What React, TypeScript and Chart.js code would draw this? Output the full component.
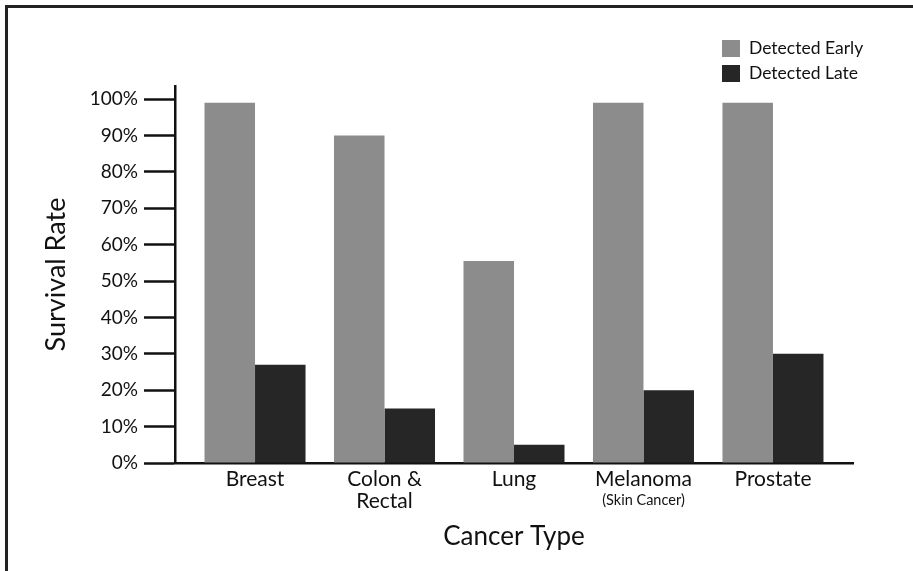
import React, { useEffect, useRef } from "react";
import { Chart, registerables } from "chart.js";

Chart.register(...registerables);

const categoryLabels: (string | string[])[] = ["Breast", ["Colon &", "Rectal"], "Lung", "Melanoma", "Prostate"];
const categorySubLabels: string[] = ["", "", "", "(Skin Cancer)", ""];
const detectedEarly: number[] = [99, 90, 55.5, 99, 99];
const detectedLate: number[] = [27, 15, 5, 20, 30];
const yTickValues: number[] = [0, 10, 20, 30, 40, 50, 60, 70, 80, 90, 100];
const seriesNames: string[] = ["Detected Early", "Detected Late"];
const seriesColors: string[] = ["#8c8c8c", "#262626"];

const FONT = "Lato, 'Open Sans', sans-serif";

const subLabelPlugin = {
  id: "subLabels",
  afterDraw(chart: any) {
    const xs = chart.scales.x;
    const ctx = chart.ctx;
    ctx.save();
    ctx.font = `14.5px ${FONT}`;
    ctx.fillStyle = "#111";
    ctx.textAlign = "center";
    ctx.textBaseline = "middle";
    categorySubLabels.forEach((t, i) => {
      if (!t) return;
      ctx.fillText(t, xs.getPixelForValue(i), xs.top + 37);
    });
    ctx.restore();
  },
};

const legendPlugin = {
  id: "customLegend",
  afterDraw(chart: any) {
    const ctx = chart.ctx;
    ctx.save();
    ctx.font = `17.5px ${FONT}`;
    ctx.textAlign = "left";
    ctx.textBaseline = "middle";
    chart.data.datasets.forEach((ds: any, i: number) => {
      const bx = 722;
      const by = 40 + i * 25;
      ctx.fillStyle = ds.backgroundColor;
      ctx.fillRect(bx, by, 18, 17);
      ctx.fillStyle = "#111";
      ctx.fillText(ds.label, bx + 27, by + 8.5);
    });
    ctx.restore();
  },
};

export default function App() {
  const ref = useRef<HTMLCanvasElement>(null);
  useEffect(() => {
    if (!ref.current) return;
    const pad = 0.118;
    const chart = new Chart(ref.current, {
      type: "bar",
      data: {
        datasets: [
          {
            label: seriesNames[0],
            data: detectedEarly.map((v, i) => ({ x: i, y: v })),
            backgroundColor: seriesColors[0],
            barPercentage: 1,
            categoryPercentage: 0.78,
          },
          {
            label: seriesNames[1],
            data: detectedLate.map((v, i) => ({ x: i, y: v })),
            backgroundColor: seriesColors[1],
            barPercentage: 1,
            categoryPercentage: 0.78,
          },
        ],
      },
      options: {
        animation: false,
        responsive: false,
        devicePixelRatio: 1,
        layout: { padding: { top: 86, right: 60, left: 0, bottom: 0 } },
        plugins: {
          legend: { display: false },
          tooltip: { enabled: false },
          title: { display: false },
        },
        scales: {
          x: {
            type: "linear",
            offset: false,
            min: -0.5 - pad,
            max: categoryLabels.length - 0.5 + pad,
            grid: { display: false, drawTicks: false, offset: false },
            border: { display: true, color: "#111", width: 2.5 },
            afterBuildTicks: (scale: any) => {
              scale.ticks = categoryLabels.map((_, i) => ({ value: i }));
            },
            afterFit: (scale: any) => {
              scale.height = 108;
            },
            ticks: {
              autoSkip: false,
              maxRotation: 0,
              padding: 5,
              color: "#111",
              font: { family: FONT, size: 21, lineHeight: 1.05 },
              callback: (v: any) => categoryLabels[v as number] as any,
            },
            title: {
              display: true,
              text: "Cancer Type",
              color: "#111",
              font: { family: FONT, size: 26 },
              padding: { top: 0, bottom: 19 },
            },
          },
          y: {
            min: 0,
            max: 103.6,
            afterBuildTicks: (scale: any) => {
              scale.ticks = yTickValues.map((v) => ({ value: v }));
            },
            afterFit: (scale: any) => {
              scale.width = 175;
            },
            grid: {
              drawOnChartArea: false,
              drawTicks: true,
              tickLength: 31,
              tickColor: "#111",
              tickWidth: 2.5,
            },
            border: { display: true, color: "#111", width: 2.5 },
            ticks: {
              padding: 6,
              color: "#111",
              font: { family: FONT, size: 19 },
              callback: (v: any) => `${v}%`,
            },
            title: {
              display: true,
              text: "Survival Rate",
              color: "#111",
              font: { family: FONT, size: 27 },
              padding: { top: 40, bottom: 0 },
            },
          },
        },
      },
      plugins: [subLabelPlugin, legendPlugin],
    } as any);
    return () => chart.destroy();
  }, []);

  return (
    <div style={{ position: "fixed", left: 0, top: 0, width: 913, height: 571, background: "#fff" }}>
      <div
        style={{
          position: "absolute",
          left: 5,
          top: 5,
          right: -10,
          bottom: -10,
          borderTop: "3px solid #222",
          borderLeft: "3px solid #222",
        }}
      />
      <canvas ref={ref} width={913} height={571} style={{ position: "absolute", left: 0, top: 0, width: 913, height: 571 }} />
    </div>
  );
}
